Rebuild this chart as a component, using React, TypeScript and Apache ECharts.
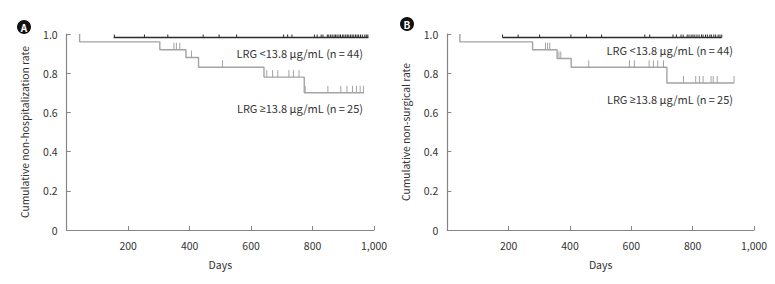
import React, { useEffect, useRef } from "react";
import * as echarts from "echarts";

// Panel A: non-hospitalization
const aLowStart = 153;
const aLowLevel = 0.982;
const aLowEnd = 982;
const aLowCensor = [155, 253, 329, 444, 496, 553, 706, 719, 733, 806, 815, 828, 834, 848, 853, 859, 864, 870, 875, 880, 886, 891, 897, 902, 908, 913, 918, 924, 929, 934, 940, 945, 950, 956, 962, 970, 975, 980];
const aHighStart = 42;
const aHighEventDays = [42, 303, 388, 429, 642, 773];
const aHighEventSurv = [0.96, 0.92, 0.88, 0.83, 0.78, 0.7];
const aHighEnd = 967;
const aHighCensor = [349, 357, 368, 406, 507, 651, 670, 687, 723, 738, 756, 776, 850, 892, 912, 930, 943, 955, 966];

// Panel B: non-surgical
const bLowStart = 180;
const bLowLevel = 0.982;
const bLowEnd = 895;
const bLowCensor = [180, 231, 301, 403, 454, 503, 644, 660, 736, 747, 762, 769, 782, 788, 795, 801, 807, 814, 821, 829, 834, 842, 848, 856, 861, 869, 875, 883, 889, 895];
const bHighStart = 41;
const bHighEventDays = [41, 278, 358, 404, 716];
const bHighEventSurv = [0.96, 0.92, 0.875, 0.83, 0.75];
const bHighEnd = 935;
const bHighCensor = [320, 327, 334, 364, 370, 461, 594, 610, 658, 672, 686, 705, 770, 810, 822, 834, 860, 867, 880, 935];

const yTicks = [0, 0.2, 0.4, 0.6, 0.8, 1.0];
const xTicks = [0, 200, 400, 600, 800, 1000];
const lowLabel = "{a|LRG <13.8 μg/mL (n\u2009=\u200944)}";
const highLabel = "{a|LRG }{b|≥}{a|13.8 μg/mL (n\u2009=\u200925)}";
const yNameA = "Cumulative non-hospitalization rate";
const yNameB = "Cumulative non-surgical rate";
const xName = "Days";

const FONT = "'Noto Sans CJK KR', 'Noto Sans', sans-serif";
const GRAY = "#a3a3a3";
const DARK = "#2b2b2b";
const AXIS = "#858585";

function survAt(days: number[], surv: number[], t: number) {
  let s = 1;
  for (let i = 0; i < days.length; i++) if (days[i] <= t) s = surv[i];
  return s;
}

function highCurve(start: number, days: number[], surv: number[], end: number) {
  const pts: number[][] = [[start, 1]];
  days.forEach((d, i) => pts.push([d, surv[i]]));
  pts.push([end, surv[surv.length - 1]]);
  return pts;
}

function censorSeries(data: number[][], idx: number, color: string, len: number) {
  return {
    type: "custom",
    xAxisIndex: idx,
    yAxisIndex: idx,
    data,
    silent: true,
    renderItem: (_p: any, api: any) => {
      const c = api.coord([api.value(0), api.value(1)]);
      return {
        type: "line",
        shape: { x1: c[0], y1: c[1], x2: c[0], y2: c[1] - len },
        style: { stroke: color, lineWidth: 1 },
      };
    },
  };
}

export default function App() {
  const ref = useRef<HTMLDivElement>(null);
  useEffect(() => {
    if (!ref.current) return;
    const chart = echarts.init(ref.current, undefined, { renderer: "svg" });
    const grids = [
      { left: 66.7, top: 34, width: 307.3, height: 196 },
      { left: 447.3, top: 34, width: 306.7, height: 196 },
    ];
    const mkX = (i: number) => ({
      type: "value",
      gridIndex: i,
      min: xTicks[0],
      max: xTicks[xTicks.length - 1],
      interval: 200,
      name: xName,
      nameLocation: "middle",
      nameGap: 29,
      nameTextStyle: { fontFamily: FONT, fontSize: 10.5, color: "#333" },
      axisLine: { lineStyle: { color: AXIS, width: 1.2 } },
      axisTick: { inside: true, length: 4, lineStyle: { color: AXIS } },
      axisLabel: {
        fontFamily: FONT,
        fontSize: 10.5,
        color: "#333",
        margin: 10,
        formatter: (v: number) => (v === 0 ? "" : v.toLocaleString("en-US")),
      },
      splitLine: { show: false },
    });
    const mkY = (i: number, name: string) => ({
      type: "value",
      gridIndex: i,
      min: yTicks[0],
      max: yTicks[yTicks.length - 1],
      interval: 0.2,
      name,
      nameLocation: "middle",
      nameGap: 37,
      nameTextStyle: { fontFamily: FONT, fontSize: 10.3, color: "#333" },
      axisLine: { show: true, lineStyle: { color: AXIS, width: 1.2 } },
      axisTick: { show: true, inside: true, length: 4, lineStyle: { color: AXIS } },
      axisLabel: {
        fontFamily: FONT,
        fontSize: 10.5,
        color: "#333",
        margin: 9,
        formatter: (v: number) => (v === 0 ? "0" : v.toFixed(1)),
      },
      splitLine: { show: false },
    });
    const lineS = (data: number[][], idx: number, color: string, w: number) => ({
      type: "line",
      xAxisIndex: idx,
      yAxisIndex: idx,
      data,
      step: "end",
      symbol: "none",
      lineStyle: { color, width: w },
      silent: true,
    });
    const aHigh = highCurve(aHighStart, aHighEventDays, aHighEventSurv, aHighEnd);
    const bHigh = highCurve(bHighStart, bHighEventDays, bHighEventSurv, bHighEnd);
    const badge = (x: number, y: number, t: string) => ({
      type: "group",
      children: [
        { type: "circle", shape: { cx: x, cy: y, r: 7 }, style: { fill: "#111" } },
        {
          type: "text",
          x,
          y: y + 0.5,
          style: { text: t, fill: "#fff", font: `bold 10px ${FONT}`, align: "center", verticalAlign: "middle" },
        },
      ],
    });
    const label = (x: number, y: number, t: string) => ({
      type: "text",
      x,
      y,
      style: {
        text: t,
        align: "right",
        verticalAlign: "middle",
        rich: {
          a: { fill: "#333", fontFamily: FONT, fontSize: 11 },
          b: { fill: "#333", fontFamily: "'Noto Sans', sans-serif", fontSize: 10.5 },
        },
      },
    });
    chart.setOption({
      animation: false,
      grid: grids,
      xAxis: [mkX(0), mkX(1)],
      yAxis: [mkY(0, yNameA), mkY(1, yNameB)],
      series: [
        lineS(aHigh, 0, GRAY, 1.4),
        lineS([[aLowStart, aLowLevel], [aLowEnd, aLowLevel]], 0, DARK, 1.5),
        censorSeries(aHighCensor.map((d) => [d, survAt(aHighEventDays, aHighEventSurv, d)]), 0, GRAY, 7),
        censorSeries(aLowCensor.map((d) => [d, aLowLevel]), 0, DARK, 3),
        lineS(bHigh, 1, GRAY, 1.4),
        lineS([[bLowStart, bLowLevel], [bLowEnd, bLowLevel]], 1, DARK, 1.5),
        censorSeries(bHighCensor.map((d) => [d, survAt(bHighEventDays, bHighEventSurv, d)]), 1, GRAY, 7),
        censorSeries(bLowCensor.map((d) => [d, bLowLevel]), 1, DARK, 3),
      ],
      graphic: [
        badge(24, 27, "A"),
        badge(407, 24, "B"),
        label(363, 53, lowLabel),
        label(363, 108, highLabel),
        label(733, 50, lowLabel),
        label(733, 99, highLabel),
      ],
    });
    return () => chart.dispose();
  }, []);
  return <div ref={ref} style={{ position: "fixed", left: 0, top: 0, width: 775, height: 284, background: "#fff" }} />;
}
